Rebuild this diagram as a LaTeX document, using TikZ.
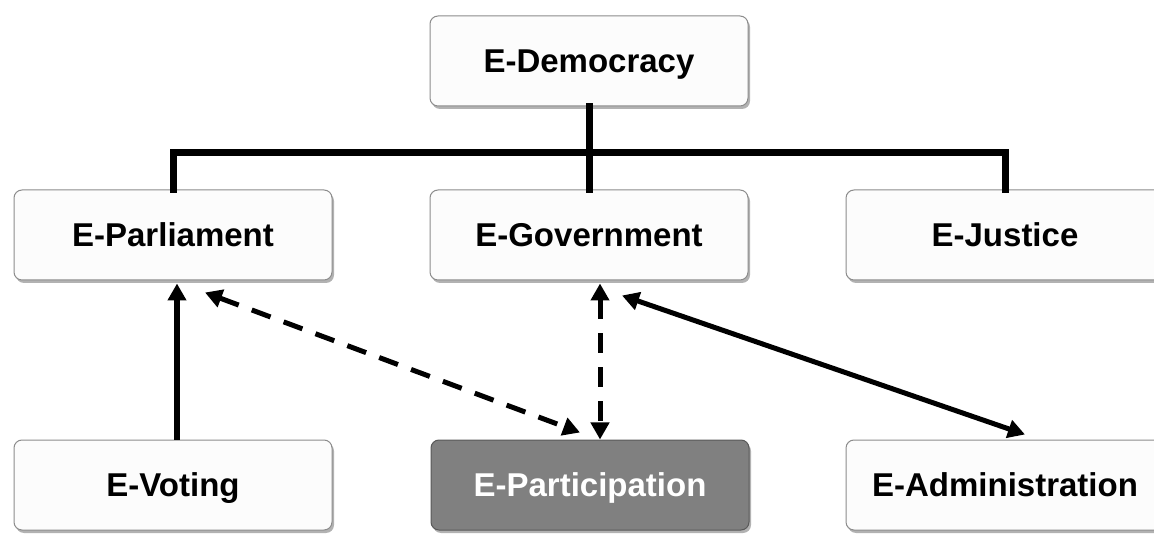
\documentclass[tikz,border=0pt]{standalone}
\usepackage{fontspec}
\setmainfont{Liberation Sans}
\usetikzlibrary{arrows.meta,shadows}

\tikzset{
  box/.style={draw=black!45, line width=1pt, fill=black!1, rounded corners=8pt,
    minimum width=318pt, minimum height=90pt, inner sep=0pt,
    text height=23.6pt, text depth=0pt,
    font=\fontsize{33}{36}\selectfont\bfseries,
    drop shadow={shadow xshift=2pt, shadow yshift=-3pt, opacity=0.3, fill=black}},
  darkbox/.style={box, fill=black!50, draw=black!65, text=white},
  tree/.style={line width=7pt, line cap=rect, line join=miter},
  link/.style={line width=5pt, {Triangle[length=17pt,width=18pt]}-{Triangle[length=17pt,width=18pt]}},
  uplink/.style={line width=5.5pt, -{Triangle[length=17pt,width=18pt]}},
  dashlink/.style={link, dash pattern=on 20pt off 14pt}
}

\begin{document}
\begin{tikzpicture}[x=1pt, y=-1pt]
  \useasboundingbox (0,0) rectangle (1154,534);
  \fill[white] (0,0) rectangle (1154,534);
  \clip (0,0) rectangle (1154,534);

  % hierarchy boxes
  \node[box] (dem)  at (589,61)  {E-Democracy};
  \node[box] (parl) at (173,235) {E-Parliament};
  \node[box] (gov)  at (589,235) {E-Government};
  \node[box] (jus)  at (1005,235) {E-Justice};
  \node[box] (vot)  at (173,485) {E-Voting};
  \node[darkbox] (part) at (590,485) {E-Participation};
  \node[box] (adm)  at (1005,485) {E-Administration};

  % tree bar under E-Democracy
  \coordinate (bar) at (0,153);
  \draw[tree] (dem.south) -- (dem.south |- bar);
  \draw[tree] (parl.north) -- (parl.north |- bar) -- (jus.north |- bar) -- (jus.north);
  \draw[tree] (gov.north) -- (gov.north |- bar);

  % relations between the lower levels
  \draw[uplink] ([xshift=4pt]vot.north) -- ([xshift=4pt,yshift=-3pt]parl.south);
  \draw[dashlink] ([xshift=32pt,yshift=-12pt]parl.south) -- ([xshift=-10pt,yshift=7pt]part.north);
  \draw[dashlink] ([xshift=11pt,yshift=-3pt]gov.south) -- ([xshift=10pt]part.north);
  \draw[link] ([xshift=33pt,yshift=-15pt]gov.south) -- ([xshift=20pt,yshift=5pt]adm.north);
\end{tikzpicture}
\end{document}
